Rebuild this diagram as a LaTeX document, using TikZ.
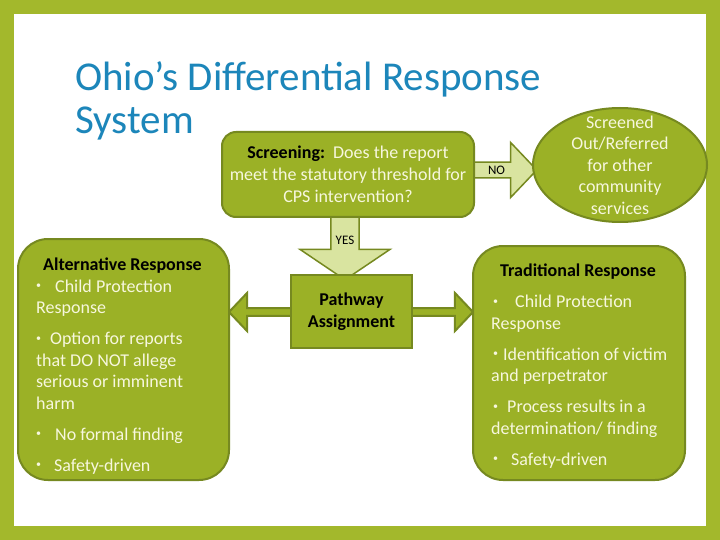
\documentclass[tikz,border=0pt]{standalone}
\usepackage{fontspec}
\setmainfont{Carlito}
\usepackage{xcolor}
\usetikzlibrary{shapes.geometric, shapes.arrows, positioning}

\definecolor{framegreen}{RGB}{163,184,44}
\definecolor{boxfill}{RGB}{155,177,38}
\definecolor{boxline}{RGB}{118,137,32}
\definecolor{palefill}{RGB}{217,228,160}
\definecolor{titleblue}{RGB}{28,134,186}
\definecolor{paletext}{RGB}{247,247,222}

% bullet in a box of given width (optional left offset)
\newcommand{\bul}[2][0pt]{\makebox[#2][l]{\hspace*{#1}\raisebox{.35ex}{\fontsize{10}{10}\selectfont\textbullet}}}

\begin{document}
\begin{tikzpicture}[x=1pt, y=-1pt,
    box/.style={rectangle, draw=boxline, line width=2pt, fill=boxfill, rounded corners=14pt, inner sep=0pt},
    bigbox/.style={box, rounded corners=30pt},
    blockarrow/.style={single arrow, draw=boxline, line width=1.5pt, fill=palefill, inner sep=0pt, font=\fontsize{13}{15}\selectfont},
    body/.style={text=paletext, inner sep=0pt, align=left, font=\fontsize{18}{21.5}\selectfont},
    heading/.style={text=black, inner sep=0pt, font=\bfseries\fontsize{18}{21.5}\selectfont}
]
\useasboundingbox (0,0) rectangle (720,540);

% Frame
\fill[framegreen] (0,0) rectangle (720,540);
\fill[white] (14,14) rectangle (706,526);

% Title (base = last line)
\node[anchor=base west, inner sep=0pt, align=left, text=titleblue, font=\fontsize{41}{43}\selectfont] (title) at (75,134) {Ohio’s Differential Response\\System};

% Arrows (drawn first, boxes sit on their tails)
\node[blockarrow, minimum height=73, minimum width=55, single arrow head extend=12.5, single arrow tip angle=93] (no) at (496.5,170) {NO};
\node[blockarrow, shape border rotate=270, minimum height=70, minimum width=90, single arrow head extend=22, single arrow tip angle=112] (yes) at (345,240) {YES};
\node[double arrow, draw=boxline, line width=2pt, fill=boxfill, inner sep=0pt, minimum height=244, minimum width=38, double arrow head extend=4, double arrow tip angle=93] (split) at (351,312) {};

% Screening
\node[box, minimum width=252, minimum height=85, text=paletext, align=center, font=\fontsize{18}{22}\selectfont] (screen) at (348,174.5)
    {\textcolor{black}{\bfseries Screening:}\ \ Does the report\\meet the statutory threshold for\\CPS intervention?};

% Screened out
\node[ellipse, draw=boxline, line width=2pt, fill=boxfill, minimum width=174, minimum height=114, inner sep=0pt] (out) at (620,165) {};
\node[text=paletext, align=center, inner sep=0pt, font=\fontsize{18}{21.5}\selectfont] (outtext) at (out.center) {Screened\\Out/Referred\\for other\\community\\services};

% Pathway
\node[box, rounded corners=0pt, minimum width=121, minimum height=73, align=center, font=\bfseries\fontsize{18}{22}\selectfont] (pathway) at (351.5,311.5) {Pathway\\Assignment};

% Alternative response
\node[bigbox, minimum width=211, minimum height=241] (alt) at (123.5,359.5) {};
\node[heading, anchor=base] (alttitle) at (122.5,270.5) {Alternative Response};
\node[body, anchor=base west] (altlist) at (36,471) {\bul{19pt}Child Protection\\Response\\[9.5pt]\bul{14pt}Option for reports\\that DO NOT allege\\serious or imminent\\harm\\[9.5pt]\bul{19pt}No formal finding\\[9.5pt]\bul{18pt}Safety-driven};

% Traditional response
\node[bigbox, minimum width=212, minimum height=234] (trad) at (579,363) {};
\node[heading, anchor=base] (tradtitle) at (578,276) {Traditional Response};
\node[body, anchor=base west] (tradlist) at (491,465) {\bul[2pt]{24pt}Child Protection\\Response\\[9.5pt]\bul[2pt]{12pt}Identification of victim\\and perpetrator\\[9.5pt]\bul[2pt]{16pt}Process results in a\\determination/ finding\\[9.5pt]\bul[2pt]{20pt}Safety-driven};

\end{tikzpicture}
\end{document}
